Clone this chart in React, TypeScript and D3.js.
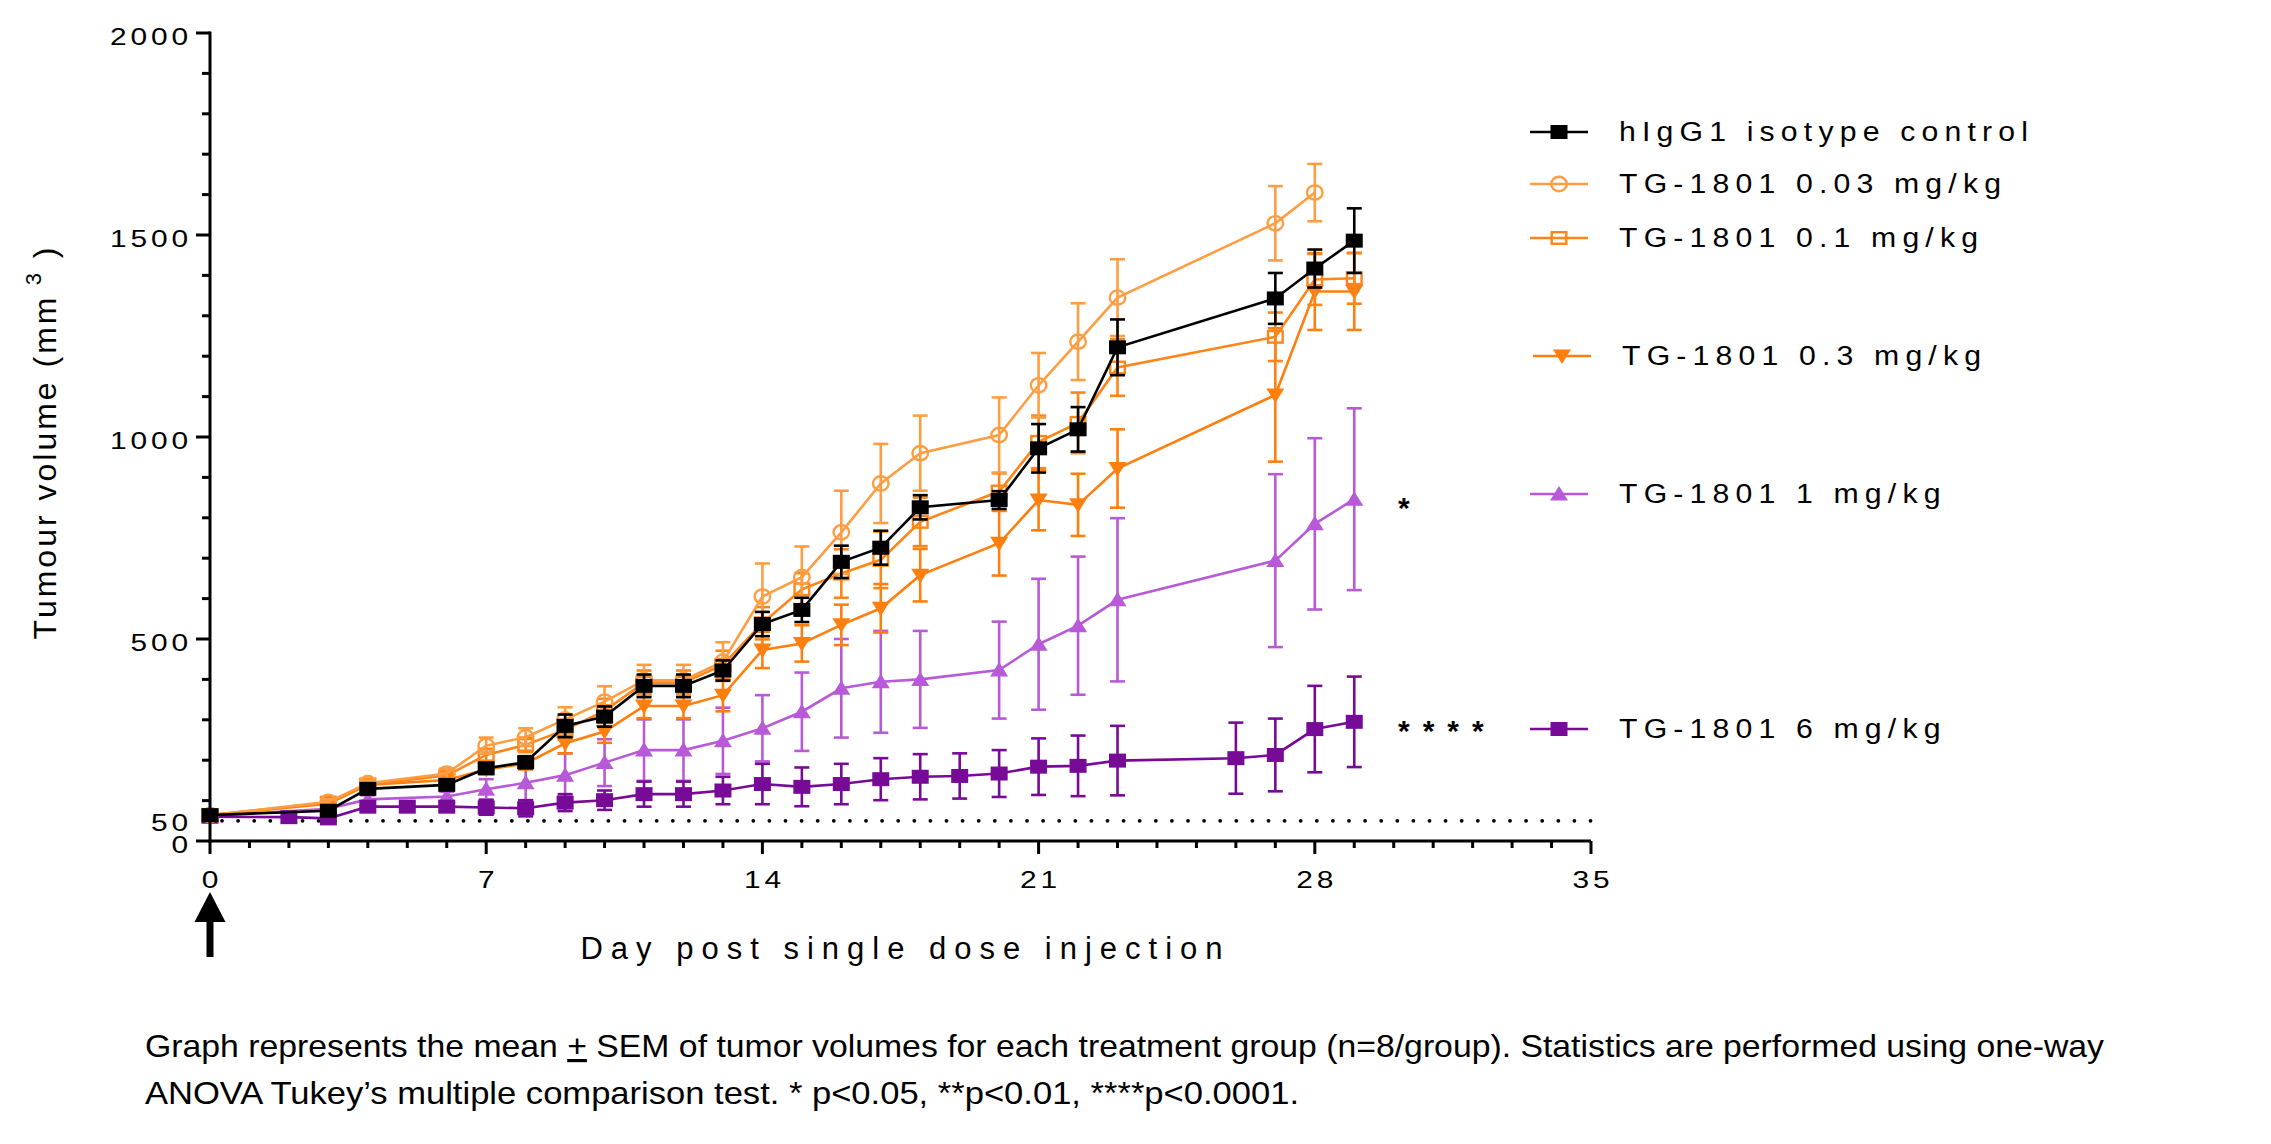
import React from "react";
import * as d3 from "d3";

// ---------- data ----------
const daysMain = [0, 3, 4, 6, 7, 8, 9, 10, 11, 12, 13, 14, 15, 16, 17, 18, 20, 21, 22, 23, 27, 28, 29];
const daysCircle = [0, 3, 4, 6, 7, 8, 9, 10, 11, 12, 13, 14, 15, 16, 17, 18, 20, 21, 22, 23, 27, 28];
const days6 = [0, 2, 3, 4, 5, 6, 7, 8, 9, 10, 11, 12, 13, 14, 15, 16, 17, 18, 19, 20, 21, 22, 23, 26, 27, 28, 29];

const ctrlMean = [64, 75, 129, 139, 180, 195, 285, 308, 384, 384, 422, 537, 572, 691, 726, 826, 844, 972, 1019, 1222, 1343, 1417, 1486];
const ctrlSem = [3, 5, 8, 10, 12, 15, 28, 25, 28, 28, 25, 30, 30, 40, 42, 30, 22, 60, 55, 69, 63, 47, 80];

const d003Mean = [64, 97, 143, 167, 236, 257, 301, 345, 398, 398, 444, 605, 653, 764, 885, 960, 1005, 1128, 1236, 1345, 1529, 1605];
const d003Sem = [3, 6, 8, 12, 20, 22, 30, 38, 38, 38, 48, 82, 76, 103, 98, 93, 93, 80, 95, 95, 92, 71];

const d01Mean = [64, 95, 140, 162, 213, 238, 275, 322, 392, 392, 436, 539, 623, 662, 696, 790, 865, 988, 1035, 1172, 1248, 1390, 1393];
const d01Sem = [3, 6, 8, 10, 15, 18, 25, 30, 30, 30, 35, 40, 40, 60, 70, 60, 45, 65, 75, 70, 60, 63, 63];

const d03Mean = [64, 92, 139, 151, 177, 192, 242, 271, 334, 334, 361, 473, 489, 535, 576, 658, 737, 844, 832, 922, 1104, 1360, 1360];
const d03Sem = [3, 5, 8, 10, 12, 15, 25, 28, 30, 30, 40, 45, 45, 50, 60, 65, 80, 75, 77, 97, 165, 95, 95];

const d1Mean = [62, 80, 103, 110, 128, 144, 163, 194, 225, 225, 248, 279, 320, 378, 394, 400, 423, 487, 533, 597, 694, 785, 846];
const d1Sem = [3, 5, 10, 12, 25, 45, 54, 58, 76, 76, 82, 82, 97, 122, 126, 120, 120, 162, 171, 202, 214, 212, 225];

const d6Mean = [60, 59, 56, 85, 85, 85, 83, 81, 95, 101, 116, 116, 125, 141, 134, 141, 153, 159, 161, 167, 184, 186, 199, 205, 213, 277, 295];
const d6Sem = [3, 4, 5, 8, 10, 12, 18, 20, 21, 24, 31, 31, 34, 50, 48, 50, 52, 56, 56, 58, 70, 75, 86, 88, 90, 107, 112];

const yMajorTicks = [0, 500, 1000, 1500, 2000];
const yExtraLabel = [50];
const xMajorTicks = [0, 7, 14, 21, 28, 35];
const baselineValue = 50;

const legendLabels = [
  "hIgG1 isotype control",
  "TG-1801 0.03 mg/kg",
  "TG-1801 0.1 mg/kg",
  "TG-1801 0.3 mg/kg",
  "TG-1801 1 mg/kg",
  "TG-1801 6 mg/kg",
];

const captionLine1a = "Graph represents the mean ";
const captionPlus = "+";
const captionLine1b = " SEM of tumor volumes for each treatment group (n=8/group). Statistics are performed using one-way";
const captionLine2 = "ANOVA Tukey\u2019s multiple comparison test. * p<0.05, **p<0.01, ****p<0.0001.";

// ---------- layout ----------
const W = 2271;
const H = 1144;
const X0 = 210;
const X1 = 1591;
const Y0 = 841;
const Y1 = 33;
const FONT = "'Liberation Sans', Arial, sans-serif";

type Shape = "square" | "circle" | "squareOpen" | "triDown" | "triUp";

interface Series {
  name: string;
  days: number[];
  mean: number[];
  sem: number[];
  color: string;
  shape: Shape;
}

const series: Series[] = [
  { name: legendLabels[4], days: daysMain, mean: d1Mean, sem: d1Sem, color: "#B85AD8", shape: "triUp" },
  { name: legendLabels[5], days: days6, mean: d6Mean, sem: d6Sem, color: "#780A98", shape: "square" },
  { name: legendLabels[3], days: daysMain, mean: d03Mean, sem: d03Sem, color: "#FF7F0E", shape: "triDown" },
  { name: legendLabels[2], days: daysMain, mean: d01Mean, sem: d01Sem, color: "#FF8518", shape: "squareOpen" },
  { name: legendLabels[1], days: daysCircle, mean: d003Mean, sem: d003Sem, color: "#FF9D42", shape: "circle" },
  { name: legendLabels[0], days: daysMain, mean: ctrlMean, sem: ctrlSem, color: "#000000", shape: "square" },
];

const legendOrder = [5, 4, 3, 2, 0, 1];
const legendY = [132, 184, 238, 356, 494, 729];
const legendDx = [0, 0, 0, 3, 0, 0];

function Marker({ shape, cx, cy, color }: { shape: Shape; cx: number; cy: number; color: string }) {
  const w = 8.5;
  const h = 7;
  switch (shape) {
    case "square":
      return <rect x={cx - w} y={cy - h} width={2 * w} height={2 * h} fill={color} />;
    case "squareOpen":
      return (
        <rect x={cx - w + 1.2} y={cy - h + 1.2} width={2 * w - 2.4} height={2 * h - 2.4} fill="none" stroke={color} strokeWidth={2.4} />
      );
    case "circle":
      return <ellipse cx={cx} cy={cy} rx={7.8} ry={7.2} fill="none" stroke={color} strokeWidth={2.4} />;
    case "triDown":
      return <path d={`M${cx - 9},${cy - 6.5} L${cx + 9},${cy - 6.5} L${cx},${cy + 8} Z`} fill={color} />;
    case "triUp":
      return <path d={`M${cx - 9},${cy + 6.5} L${cx + 9},${cy + 6.5} L${cx},${cy - 8} Z`} fill={color} />;
  }
  return null;
}

function SText({
  x,
  y,
  sx = 1,
  size,
  ls = 0,
  anchor = "start",
  baseline,
  weight,
  children,
}: {
  x: number;
  y: number;
  sx?: number;
  size: number;
  ls?: number;
  anchor?: "start" | "middle" | "end";
  baseline?: string;
  weight?: string;
  children: React.ReactNode;
}) {
  return (
    <text
      transform={`translate(${x},${y}) scale(${sx},1)`}
      textAnchor={anchor}
      dominantBaseline={baseline as any}
      fill="#000"
      style={{ fontFamily: FONT, fontSize: size, letterSpacing: ls, fontWeight: weight as any }}
    >
      {children}
    </text>
  );
}

export default function App() {
  const x = d3.scaleLinear().domain([0, 35]).range([X0, X1]);
  const y = d3.scaleLinear().domain([0, 2000]).range([Y0, Y1]);
  const line = d3.line<[number, number]>().x((d) => x(d[0])).y((d) => y(d[1]));

  const yMinor = d3.range(0, 2001, 100).filter((v) => !yMajorTicks.includes(v));
  const xMinor = d3.range(0, 36, 1).filter((v) => !xMajorTicks.includes(v));
  const dots = d3.range(x(0) + 12, x(35), 16.1);

  return (
    <svg width={W} height={H} style={{ position: "absolute", left: 0, top: 0, background: "#fff" }}>
      <rect width={W} height={H} fill="#fff" />
      {/* baseline dotted */}
      {dots.map((dx, i) => (
        <circle key={i} cx={dx} cy={y(baselineValue)} r={1.9} fill="#000" />
      ))}

      {/* series */}
      {series.map((s, si) => {
        const pts: [number, number][] = s.days.map((d, i) => [d, s.mean[i]]);
        return (
          <g key={si}>
            <path d={line(pts) || ""} fill="none" stroke={s.color} strokeWidth={2.6} />
            {s.days.map((d, i) => {
              const cx = x(d);
              const top = y(s.mean[i] + s.sem[i]);
              const bot = y(Math.max(0, s.mean[i] - s.sem[i]));
              return (
                <g key={i} stroke={s.color} strokeWidth={2.6}>
                  <line x1={cx} x2={cx} y1={top} y2={bot} />
                  <line x1={cx - 7.5} x2={cx + 7.5} y1={top} y2={top} />
                  <line x1={cx - 7.5} x2={cx + 7.5} y1={bot} y2={bot} />
                </g>
              );
            })}
            {s.days.map((d, i) => (
              <Marker key={"m" + i} shape={s.shape} cx={x(d)} cy={y(s.mean[i])} color={s.color} />
            ))}
          </g>
        );
      })}

      {/* axes */}
      <g stroke="#000" strokeWidth={3}>
        <line x1={X0} x2={X0} y1={Y1 - 1.5} y2={Y0 + 1.5} />
        <line x1={X0 - 1.5} x2={X1} y1={Y0} y2={Y0} />
        {yMajorTicks.map((v) => (
          <line key={"ym" + v} x1={X0 - 14} x2={X0} y1={y(v)} y2={y(v)} />
        ))}
        {yMinor.map((v) => (
          <line key={"yn" + v} x1={X0 - 8} x2={X0} y1={y(v)} y2={y(v)} />
        ))}
        {xMajorTicks.map((v) => (
          <line key={"xm" + v} x1={x(v)} x2={x(v)} y1={Y0} y2={Y0 + 13} />
        ))}
        {xMinor.map((v) => (
          <line key={"xn" + v} x1={x(v)} x2={x(v)} y1={Y0} y2={Y0 + 7} />
        ))}
      </g>

      {/* y tick labels */}
      {[...yMajorTicks, ...yExtraLabel].map((v) => (
        <SText key={"yl" + v} x={X0 - 18} y={y(v) + (v === 50 ? 10 : 12)} sx={1.3} size={23} ls={3} anchor="end">
          {v}
        </SText>
      ))}
      {/* x tick labels */}
      {xMajorTicks.map((v) => (
        <SText key={"xl" + v} x={x(v) + 2} y={Y0 + 47} sx={1.3} size={23} ls={3} anchor="middle">
          {v}
        </SText>
      ))}

      {/* arrow */}
      <path d={`M${x(0)},892 L${x(0) + 15.5},922 L${x(0) - 15.5},922 Z`} fill="#000" />
      <rect x={x(0) - 3.5} y={920} width={7} height={37} fill="#000" />

      {/* axis titles */}
      <SText x={(X0 + X1) / 2 + 5} y={959} size={31} ls={8} anchor="middle">
        Day post single dose injection
      </SText>
      <text
        transform={`translate(56, 442) rotate(-90)`}
        textAnchor="middle"
        fill="#000"
        style={{ fontFamily: FONT, fontSize: 32, letterSpacing: 3 }}
      >
        Tumour volume (mm
        <tspan dy={-15} fontSize={22}>
          {" 3"}
        </tspan>
        <tspan dy={15}>{" )"}</tspan>
      </text>

      {/* significance */}
      <SText x={1398} y={518} size={30} weight="bold">
        *
      </SText>
      <SText x={1398} y={741} size={30} weight="bold" ls={13}>
        ****
      </SText>

      {/* legend */}
      {legendOrder.map((si, row) => {
        const s = series[si];
        const ly = legendY[row];
        const ox = legendDx[row];
        return (
          <g key={"lg" + row}>
            <line x1={1530 + ox} x2={1588 + ox} y1={ly} y2={ly} stroke={s.color} strokeWidth={2.6} />
            <Marker shape={s.shape} cx={1559 + ox} cy={ly} color={s.color} />
            <SText x={1619 + ox} y={ly} size={27} sx={1.12} ls={5.5} baseline="central">
              {s.name}
            </SText>
          </g>
        );
      })}

      {/* caption */}
      <text
        x={145}
        y={1057}
        fill="#000"
        textLength={1959}
        lengthAdjust="spacingAndGlyphs"
        style={{ fontFamily: FONT, fontSize: 32 }}
      >
        {captionLine1a}
        <tspan textDecoration="underline">{captionPlus}</tspan>
        {captionLine1b}
      </text>
      <text
        x={145}
        y={1104}
        fill="#000"
        textLength={1154}
        lengthAdjust="spacingAndGlyphs"
        style={{ fontFamily: FONT, fontSize: 32 }}
      >
        {captionLine2}
      </text>
    </svg>
  );
}
